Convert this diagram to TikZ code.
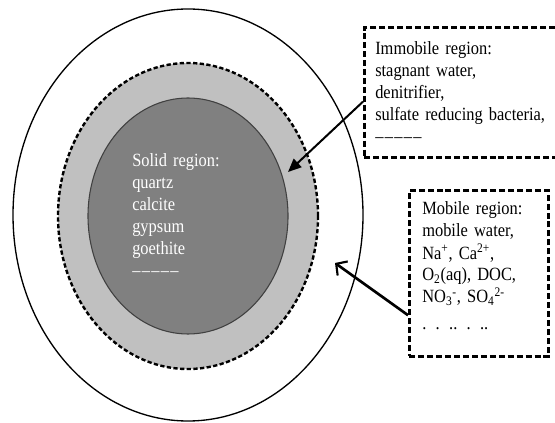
\documentclass[tikz,border=0pt]{standalone}
\usepackage{fontspec}
\setmainfont{Liberation Serif}[FakeStretch=0.88]
\usetikzlibrary{arrows.meta,calc}
\definecolor{solidgray}{HTML}{808080}
\definecolor{immgray}{HTML}{C0C0C0}
\definecolor{rimgray}{HTML}{404040}
\newcommand{\dashrow}{\textendash\kern1pt\textendash\kern1pt\textendash\kern1pt\textendash\kern1pt\textendash}
\begin{document}
\begin{tikzpicture}[x=0.75pt,y=-0.75pt,
  lbl/.style={inner sep=0pt, anchor=base west, align=left,
    font=\fontsize{14}{16.5}\selectfont},
  dbox/.style={draw=black, line width=2.2pt, dash pattern=on 4.5pt off 2.2pt,
    fill=white, inner sep=0pt, anchor=north west},
  arrowA/.style={line width=1.5pt, -{Triangle[length=10pt,width=8.5pt]}},
  arrowB/.style={line width=2pt, -{Straight Barb[length=6pt,width=13pt,line width=1.6pt]}}]
\useasboundingbox (0,0) rectangle (555,423);
\clip (0,0) rectangle (555,423);
% regions
\draw[line width=1pt, fill=white] (188,215) ellipse [x radius=131.25pt, y radius=154.5pt];
\draw[line width=1.8pt, dash pattern=on 3.2pt off 1.8pt, fill=immgray] (188,216) ellipse [x radius=97.5pt, y radius=114.75pt];
\draw[line width=0.8pt, draw=rimgray, fill=solidgray] (188,216) ellipse [x radius=75pt, y radius=88.5pt];
% solid text
\node[lbl, text=white, text width=110pt] (solid) at (132,167) {Solid region:\\quartz\\calcite\\gypsum\\goethite\\\dashrow};
% boxes
\node[dbox, minimum width=150pt, minimum height=97.5pt] (imm) at (363,26) {};
\node[lbl, text width=140pt] (immtext) at (375,55) {Immobile region:\\stagnant water,\\denitrifier,\\sulfate reducing bacteria,\\\dashrow};
\node[dbox, minimum width=104.25pt, minimum height=124.5pt] (mob) at (408,189) {};
\node[lbl, text width=90pt] (mobtext) at (422,215) {Mobile region:\\mobile water,\\Na\textsuperscript{+}, Ca\textsuperscript{2+},\\O\textsubscript{2}(aq), DOC,\\NO\textsubscript{3}\textsuperscript{-}, SO\textsubscript{4}\textsuperscript{2-}\\[3pt]. . .. . ..};
% arrows
\coordinate (immtip) at (288,172);
\coordinate (mobtip) at (335,263);
\draw[arrowA] ($(imm.north west)!0.569!(imm.south west)$) -- (immtip);
\draw[arrowB] ($(mob.north west)!0.747!(mob.south west)$) -- (mobtip);
\end{tikzpicture}
\end{document}
